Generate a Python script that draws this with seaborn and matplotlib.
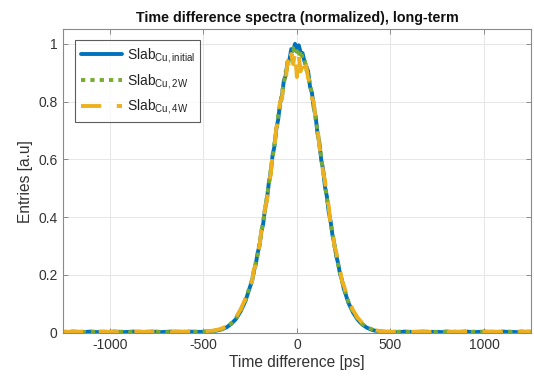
import numpy as np
import pandas as pd
import matplotlib
matplotlib.use("Agg")
import matplotlib.pyplot as plt
import seaborn as sns

# ---------------- data ----------------
# time bins [ps]: coarse tails, fine centre
x_left = np.arange(-1250, -250, 25)      # -1250 ... -275 (40 bins)
x_center = np.arange(-250, 251, 10)      # -250 ... 250 (51 bins)
x_right = np.arange(275, 1251, 25)       # 275 ... 1250 (40 bins)
time_ps = np.concatenate([x_left, x_center, x_right])

initial_left = [0.003, 0.002, 0.004, 0.003, 0.002, 0.003, 0.004, 0.002, 0.003, 0.003,
                0.002, 0.004, 0.003, 0.002, 0.003, 0.004, 0.003, 0.002, 0.003, 0.004,
                0.003, 0.002, 0.003, 0.004, 0.003, 0.003, 0.002, 0.004, 0.003, 0.003,
                0.003, 0.004, 0.005, 0.008, 0.012, 0.019, 0.031, 0.048, 0.075, 0.110]
initial_center = [0.160, 0.178, 0.214, 0.236, 0.276, 0.300, 0.350, 0.378, 0.432, 0.462,
                  0.520, 0.552, 0.615, 0.645, 0.706, 0.738, 0.795, 0.818, 0.872, 0.890,
                  0.938, 0.945, 0.982, 0.976, 1.000, 0.985, 0.995, 0.970, 0.968, 0.940,
                  0.922, 0.905, 0.852, 0.832, 0.778, 0.750, 0.690, 0.658, 0.598, 0.566,
                  0.505, 0.472, 0.418, 0.386, 0.338, 0.308, 0.266, 0.241, 0.205, 0.184,
                  0.154]
initial_right = [0.104, 0.070, 0.045, 0.028, 0.017, 0.010, 0.006, 0.004, 0.003, 0.002,
                 0.003, 0.002, 0.004, 0.003, 0.002, 0.003, 0.004, 0.002, 0.003, 0.003,
                 0.002, 0.004, 0.003, 0.002, 0.003, 0.004, 0.003, 0.002, 0.003, 0.004,
                 0.003, 0.002, 0.003, 0.004, 0.003, 0.003, 0.002, 0.004, 0.003, 0.003]

w2_left = [0.002, 0.004, 0.003, 0.003, 0.004, 0.002, 0.003, 0.004, 0.003, 0.002,
           0.004, 0.003, 0.003, 0.004, 0.002, 0.003, 0.003, 0.004, 0.002, 0.003,
           0.004, 0.003, 0.002, 0.003, 0.004, 0.003, 0.003, 0.003, 0.004, 0.003,
           0.004, 0.005, 0.006, 0.009, 0.013, 0.021, 0.033, 0.051, 0.078, 0.114]
w2_center = [0.165, 0.184, 0.208, 0.244, 0.268, 0.312, 0.342, 0.390, 0.424, 0.476,
             0.508, 0.568, 0.600, 0.660, 0.692, 0.752, 0.780, 0.835, 0.858, 0.905,
             0.915, 0.958, 0.955, 0.985, 0.962, 0.975, 0.955, 0.978, 0.950, 0.952,
             0.910, 0.895, 0.860, 0.820, 0.790, 0.738, 0.702, 0.648, 0.610, 0.555,
             0.518, 0.465, 0.430, 0.378, 0.348, 0.300, 0.275, 0.236, 0.212, 0.180,
             0.160]
w2_right = [0.108, 0.073, 0.048, 0.030, 0.019, 0.012, 0.007, 0.005, 0.004, 0.003,
            0.002, 0.004, 0.003, 0.003, 0.004, 0.002, 0.003, 0.004, 0.003, 0.002,
            0.004, 0.003, 0.003, 0.004, 0.002, 0.003, 0.003, 0.004, 0.002, 0.003,
            0.004, 0.003, 0.002, 0.003, 0.004, 0.003, 0.003, 0.003, 0.004, 0.003]

w4_left = [0.004, 0.003, 0.003, 0.004, 0.003, 0.004, 0.002, 0.003, 0.004, 0.004,
           0.003, 0.002, 0.004, 0.003, 0.004, 0.002, 0.004, 0.003, 0.004, 0.002,
           0.003, 0.004, 0.004, 0.002, 0.003, 0.004, 0.004, 0.003, 0.002, 0.004,
           0.004, 0.006, 0.007, 0.010, 0.015, 0.023, 0.036, 0.054, 0.082, 0.118]
w4_center = [0.170, 0.176, 0.220, 0.232, 0.282, 0.298, 0.356, 0.372, 0.438, 0.455,
             0.528, 0.545, 0.622, 0.638, 0.712, 0.728, 0.800, 0.808, 0.875, 0.872,
             0.940, 0.915, 0.965, 0.930, 0.970, 0.885, 0.960, 0.905, 0.950, 0.918,
             0.925, 0.880, 0.870, 0.812, 0.800, 0.735, 0.712, 0.642, 0.620, 0.552,
             0.530, 0.462, 0.440, 0.375, 0.355, 0.302, 0.280, 0.238, 0.218, 0.182,
             0.165]
w4_right = [0.114, 0.078, 0.052, 0.033, 0.021, 0.013, 0.008, 0.005, 0.004, 0.003,
            0.004, 0.003, 0.002, 0.004, 0.003, 0.004, 0.003, 0.002, 0.004, 0.003,
            0.003, 0.004, 0.002, 0.003, 0.004, 0.003, 0.004, 0.002, 0.004, 0.003,
            0.003, 0.004, 0.003, 0.002, 0.004, 0.003, 0.004, 0.003, 0.003, 0.004]

labels = [r"Slab$_{\mathrm{Cu,initial}}$", r"Slab$_{\mathrm{Cu,2W}}$", r"Slab$_{\mathrm{Cu,4W}}$"]
x_ticks = [-1000, -500, 0, 500, 1000]
y_ticks = [0, 0.2, 0.4, 0.6, 0.8, 1]
y_ticklabels = ["0", "0.2", "0.4", "0.6", "0.8", "1"]

series = [initial_left + initial_center + initial_right,
          w2_left + w2_center + w2_right,
          w4_left + w4_center + w4_right]

# ---------------- style ----------------
sns.set_style("whitegrid")
plt.rcParams["font.family"] = ["Liberation Sans", "DejaVu Sans"]
plt.rcParams["mathtext.fontset"] = "custom"
plt.rcParams["mathtext.rm"] = "Liberation Sans"
plt.rcParams["mathtext.it"] = "Liberation Sans:italic"
plt.rcParams["mathtext.bf"] = "Liberation Sans:bold"
plt.rcParams["axes.unicode_minus"] = False

colors = ["#0072BD", "#77AC30", "#EDB120"]
styles = ["-", (0, (1.1, 1.3)), (0, (5.2, 4.0))]

fig = plt.figure(figsize=(5.34, 3.82), dpi=100)
ax = fig.add_axes([0.118, 0.129, 0.876, 0.794])

for lab, vals, c, ls in zip(labels, series, colors, styles):
    df = pd.DataFrame({"t": time_ps, "v": vals})
    sns.lineplot(data=df, x="t", y="v", ax=ax, color=c, linewidth=2.8,
                 linestyle=ls, label=lab, errorbar=None)

ax.set_xlim(-1250, 1250)
ax.set_ylim(0, 1.05)
ax.set_xticks(x_ticks)
ax.set_yticks(y_ticks)
ax.set_yticklabels(y_ticklabels)
ax.grid(True, color="#e6e6e6", linewidth=0.7)
for s in ax.spines.values():
    s.set_color("#8a8a8a")
    s.set_linewidth(0.8)
ax.tick_params(axis="both", direction="in", length=3.5, width=0.7, color="#8a8a8a",
               labelsize=10, labelcolor="#333333", top=True, right=True,
               bottom=True, left=True, pad=4)

ax.set_xlabel("Time difference [ps]", fontsize=11.2, color="#333333", labelpad=2)
ax.set_ylabel("Entries [a.u]", fontsize=11.2, color="#333333", labelpad=4)
ax.set_title("Time difference spectra (normalized), long-term", fontsize=10.3,
             fontweight="bold", color="#111111", pad=5)

leg = ax.legend(loc="upper left", bbox_to_anchor=(0.026, 0.965), fontsize=10,
                frameon=True, fancybox=False, handlelength=3.0, handletextpad=0.3,
                labelspacing=0.5, borderpad=0.4, borderaxespad=0.0)
leg.get_frame().set_edgecolor("#333333")
leg.get_frame().set_linewidth(0.8)
for t in leg.get_texts():
    t.set_color("#222222")

fig.savefig("out.png", dpi=100)
